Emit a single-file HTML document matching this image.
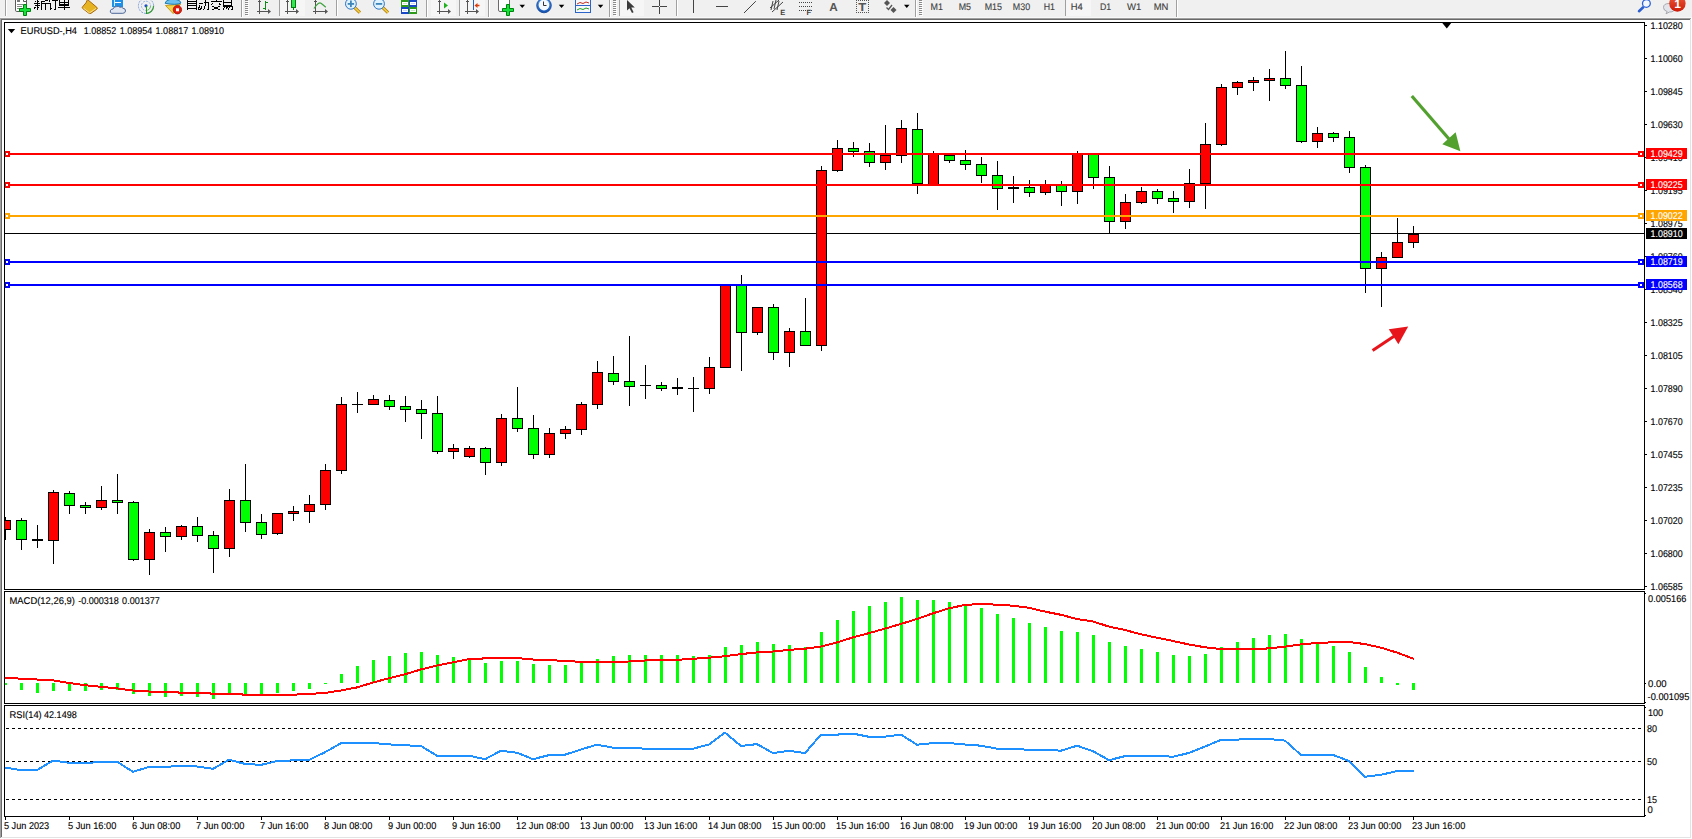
<!DOCTYPE html><html><head><meta charset="utf-8"><title>EURUSD H4</title><style>html,body{margin:0;padding:0;background:#f0f0f0;overflow:hidden;}svg{display:block;}text{font-family:"Liberation Sans",sans-serif;}</style></head><body><svg width="1692" height="839" viewBox="0 0 1692 839" font-family="Liberation Sans, sans-serif" shape-rendering="crispEdges" text-rendering="geometricPrecision">
<defs><clipPath id="cm"><rect x="5" y="23" width="1639" height="566"/></clipPath><clipPath id="cmacd"><rect x="5" y="592" width="1639" height="111"/></clipPath><clipPath id="crsi"><rect x="5" y="706" width="1639" height="110"/></clipPath><linearGradient id="gbadge" x1="0" y1="0" x2="0" y2="1"><stop offset="0" stop-color="#ee5a3c"/><stop offset="1" stop-color="#cc1a08"/></linearGradient><linearGradient id="gclock" x1="0" y1="0" x2="0" y2="1"><stop offset="0" stop-color="#5aa0f0"/><stop offset="1" stop-color="#1050b0"/></linearGradient></defs>
<rect x="0" y="0" width="1692" height="839" fill="#f0f0f0"/>
<rect x="0" y="17" width="1692" height="1" fill="#f8f8f8"/>
<rect x="0" y="18" width="1691" height="1" fill="#a0a0a0"/>
<rect x="0" y="18" width="1" height="820" fill="#a0a0a0"/>
<rect x="1" y="19" width="1689" height="1" fill="#696969"/>
<rect x="1" y="19" width="1" height="818" fill="#696969"/>
<rect x="1690" y="19" width="1" height="819" fill="#e3e3e3"/>
<rect x="1" y="837" width="1690" height="1" fill="#e3e3e3"/>
<rect x="1691" y="18" width="1" height="821" fill="#ffffff"/>
<rect x="0" y="838" width="1692" height="1" fill="#ffffff"/>
<rect x="2" y="20" width="1688" height="817" fill="#ffffff"/>
<rect x="5" y="233" width="1639" height="1" fill="#000"/>
<g clip-path="url(#cm)">
<rect x="5" y="517" width="1" height="23" fill="#000"/>
<rect x="0" y="520" width="11" height="10" fill="#000"/>
<rect x="1" y="521" width="9" height="8" fill="#ff0000"/>
<rect x="21" y="518" width="1" height="32" fill="#000"/>
<rect x="16" y="520" width="11" height="20" fill="#000"/>
<rect x="17" y="521" width="9" height="18" fill="#00ff00"/>
<rect x="37" y="525" width="1" height="23" fill="#000"/>
<rect x="32" y="539" width="11" height="2" fill="#000"/>
<rect x="53" y="490" width="1" height="74" fill="#000"/>
<rect x="48" y="492" width="11" height="49" fill="#000"/>
<rect x="49" y="493" width="9" height="47" fill="#ff0000"/>
<rect x="69" y="491" width="1" height="23" fill="#000"/>
<rect x="64" y="493" width="11" height="13" fill="#000"/>
<rect x="65" y="494" width="9" height="11" fill="#00ff00"/>
<rect x="85" y="502" width="1" height="12" fill="#000"/>
<rect x="80" y="505" width="11" height="3" fill="#000"/>
<rect x="81" y="506" width="9" height="1" fill="#00ff00"/>
<rect x="101" y="486" width="1" height="24" fill="#000"/>
<rect x="96" y="500" width="11" height="8" fill="#000"/>
<rect x="97" y="501" width="9" height="6" fill="#ff0000"/>
<rect x="117" y="474" width="1" height="40" fill="#000"/>
<rect x="112" y="500" width="11" height="3" fill="#000"/>
<rect x="113" y="501" width="9" height="1" fill="#00ff00"/>
<rect x="133" y="501" width="1" height="60" fill="#000"/>
<rect x="128" y="502" width="11" height="58" fill="#000"/>
<rect x="129" y="503" width="9" height="56" fill="#00ff00"/>
<rect x="149" y="529" width="1" height="46" fill="#000"/>
<rect x="144" y="532" width="11" height="28" fill="#000"/>
<rect x="145" y="533" width="9" height="26" fill="#ff0000"/>
<rect x="165" y="527" width="1" height="25" fill="#000"/>
<rect x="160" y="532" width="11" height="5" fill="#000"/>
<rect x="161" y="533" width="9" height="3" fill="#00ff00"/>
<rect x="181" y="525" width="1" height="15" fill="#000"/>
<rect x="176" y="526" width="11" height="11" fill="#000"/>
<rect x="177" y="527" width="9" height="9" fill="#ff0000"/>
<rect x="197" y="517" width="1" height="25" fill="#000"/>
<rect x="192" y="526" width="11" height="10" fill="#000"/>
<rect x="193" y="527" width="9" height="8" fill="#00ff00"/>
<rect x="213" y="531" width="1" height="42" fill="#000"/>
<rect x="208" y="535" width="11" height="14" fill="#000"/>
<rect x="209" y="536" width="9" height="12" fill="#00ff00"/>
<rect x="229" y="489" width="1" height="68" fill="#000"/>
<rect x="224" y="500" width="11" height="49" fill="#000"/>
<rect x="225" y="501" width="9" height="47" fill="#ff0000"/>
<rect x="245" y="464" width="1" height="68" fill="#000"/>
<rect x="240" y="500" width="11" height="23" fill="#000"/>
<rect x="241" y="501" width="9" height="21" fill="#00ff00"/>
<rect x="261" y="514" width="1" height="25" fill="#000"/>
<rect x="256" y="522" width="11" height="13" fill="#000"/>
<rect x="257" y="523" width="9" height="11" fill="#00ff00"/>
<rect x="277" y="513" width="1" height="22" fill="#000"/>
<rect x="272" y="513" width="11" height="21" fill="#000"/>
<rect x="273" y="514" width="9" height="19" fill="#ff0000"/>
<rect x="293" y="506" width="1" height="15" fill="#000"/>
<rect x="288" y="511" width="11" height="3" fill="#000"/>
<rect x="289" y="512" width="9" height="1" fill="#ff0000"/>
<rect x="309" y="495" width="1" height="28" fill="#000"/>
<rect x="304" y="504" width="11" height="8" fill="#000"/>
<rect x="305" y="505" width="9" height="6" fill="#ff0000"/>
<rect x="325" y="464" width="1" height="46" fill="#000"/>
<rect x="320" y="470" width="11" height="35" fill="#000"/>
<rect x="321" y="471" width="9" height="33" fill="#ff0000"/>
<rect x="341" y="397" width="1" height="77" fill="#000"/>
<rect x="336" y="404" width="11" height="67" fill="#000"/>
<rect x="337" y="405" width="9" height="65" fill="#ff0000"/>
<rect x="357" y="392" width="1" height="21" fill="#000"/>
<rect x="352" y="404" width="11" height="1" fill="#000"/>
<rect x="373" y="395" width="1" height="10" fill="#000"/>
<rect x="368" y="399" width="11" height="6" fill="#000"/>
<rect x="369" y="400" width="9" height="4" fill="#ff0000"/>
<rect x="389" y="395" width="1" height="15" fill="#000"/>
<rect x="384" y="400" width="11" height="7" fill="#000"/>
<rect x="385" y="401" width="9" height="5" fill="#00ff00"/>
<rect x="405" y="396" width="1" height="26" fill="#000"/>
<rect x="400" y="406" width="11" height="4" fill="#000"/>
<rect x="401" y="407" width="9" height="2" fill="#00ff00"/>
<rect x="421" y="400" width="1" height="39" fill="#000"/>
<rect x="416" y="409" width="11" height="5" fill="#000"/>
<rect x="417" y="410" width="9" height="3" fill="#00ff00"/>
<rect x="437" y="396" width="1" height="58" fill="#000"/>
<rect x="432" y="413" width="11" height="39" fill="#000"/>
<rect x="433" y="414" width="9" height="37" fill="#00ff00"/>
<rect x="453" y="444" width="1" height="15" fill="#000"/>
<rect x="448" y="448" width="11" height="4" fill="#000"/>
<rect x="449" y="449" width="9" height="2" fill="#ff0000"/>
<rect x="469" y="446" width="1" height="12" fill="#000"/>
<rect x="464" y="448" width="11" height="9" fill="#000"/>
<rect x="465" y="449" width="9" height="7" fill="#ff0000"/>
<rect x="485" y="447" width="1" height="28" fill="#000"/>
<rect x="480" y="448" width="11" height="15" fill="#000"/>
<rect x="481" y="449" width="9" height="13" fill="#00ff00"/>
<rect x="501" y="414" width="1" height="52" fill="#000"/>
<rect x="496" y="418" width="11" height="45" fill="#000"/>
<rect x="497" y="419" width="9" height="43" fill="#ff0000"/>
<rect x="517" y="387" width="1" height="45" fill="#000"/>
<rect x="512" y="418" width="11" height="11" fill="#000"/>
<rect x="513" y="419" width="9" height="9" fill="#00ff00"/>
<rect x="533" y="415" width="1" height="44" fill="#000"/>
<rect x="528" y="428" width="11" height="27" fill="#000"/>
<rect x="529" y="429" width="9" height="25" fill="#00ff00"/>
<rect x="549" y="428" width="1" height="30" fill="#000"/>
<rect x="544" y="433" width="11" height="22" fill="#000"/>
<rect x="545" y="434" width="9" height="20" fill="#ff0000"/>
<rect x="565" y="426" width="1" height="13" fill="#000"/>
<rect x="560" y="429" width="11" height="5" fill="#000"/>
<rect x="561" y="430" width="9" height="3" fill="#ff0000"/>
<rect x="581" y="402" width="1" height="33" fill="#000"/>
<rect x="576" y="404" width="11" height="26" fill="#000"/>
<rect x="577" y="405" width="9" height="24" fill="#ff0000"/>
<rect x="597" y="361" width="1" height="48" fill="#000"/>
<rect x="592" y="372" width="11" height="33" fill="#000"/>
<rect x="593" y="373" width="9" height="31" fill="#ff0000"/>
<rect x="613" y="356" width="1" height="29" fill="#000"/>
<rect x="608" y="373" width="11" height="9" fill="#000"/>
<rect x="609" y="374" width="9" height="7" fill="#00ff00"/>
<rect x="629" y="336" width="1" height="70" fill="#000"/>
<rect x="624" y="381" width="11" height="6" fill="#000"/>
<rect x="625" y="382" width="9" height="4" fill="#00ff00"/>
<rect x="645" y="365" width="1" height="34" fill="#000"/>
<rect x="640" y="385" width="11" height="1" fill="#000"/>
<rect x="661" y="382" width="1" height="9" fill="#000"/>
<rect x="656" y="385" width="11" height="4" fill="#000"/>
<rect x="657" y="386" width="9" height="2" fill="#00ff00"/>
<rect x="677" y="378" width="1" height="17" fill="#000"/>
<rect x="672" y="387" width="11" height="2" fill="#000"/>
<rect x="693" y="377" width="1" height="35" fill="#000"/>
<rect x="688" y="388" width="11" height="1" fill="#000"/>
<rect x="709" y="357" width="1" height="37" fill="#000"/>
<rect x="704" y="367" width="11" height="22" fill="#000"/>
<rect x="705" y="368" width="9" height="20" fill="#ff0000"/>
<rect x="725" y="284" width="1" height="84" fill="#000"/>
<rect x="720" y="284" width="11" height="84" fill="#000"/>
<rect x="721" y="285" width="9" height="82" fill="#ff0000"/>
<rect x="741" y="275" width="1" height="96" fill="#000"/>
<rect x="736" y="284" width="11" height="49" fill="#000"/>
<rect x="737" y="285" width="9" height="47" fill="#00ff00"/>
<rect x="757" y="307" width="1" height="28" fill="#000"/>
<rect x="752" y="307" width="11" height="26" fill="#000"/>
<rect x="753" y="308" width="9" height="24" fill="#ff0000"/>
<rect x="773" y="304" width="1" height="56" fill="#000"/>
<rect x="768" y="307" width="11" height="46" fill="#000"/>
<rect x="769" y="308" width="9" height="44" fill="#00ff00"/>
<rect x="789" y="328" width="1" height="39" fill="#000"/>
<rect x="784" y="331" width="11" height="22" fill="#000"/>
<rect x="785" y="332" width="9" height="20" fill="#ff0000"/>
<rect x="805" y="298" width="1" height="48" fill="#000"/>
<rect x="800" y="331" width="11" height="15" fill="#000"/>
<rect x="801" y="332" width="9" height="13" fill="#00ff00"/>
<rect x="821" y="166" width="1" height="185" fill="#000"/>
<rect x="816" y="170" width="11" height="176" fill="#000"/>
<rect x="817" y="171" width="9" height="174" fill="#ff0000"/>
<rect x="837" y="140" width="1" height="32" fill="#000"/>
<rect x="832" y="148" width="11" height="23" fill="#000"/>
<rect x="833" y="149" width="9" height="21" fill="#ff0000"/>
<rect x="853" y="142" width="1" height="15" fill="#000"/>
<rect x="848" y="148" width="11" height="4" fill="#000"/>
<rect x="849" y="149" width="9" height="2" fill="#00ff00"/>
<rect x="869" y="143" width="1" height="24" fill="#000"/>
<rect x="864" y="151" width="11" height="12" fill="#000"/>
<rect x="865" y="152" width="9" height="10" fill="#00ff00"/>
<rect x="885" y="125" width="1" height="45" fill="#000"/>
<rect x="880" y="155" width="11" height="8" fill="#000"/>
<rect x="881" y="156" width="9" height="6" fill="#ff0000"/>
<rect x="901" y="120" width="1" height="43" fill="#000"/>
<rect x="896" y="128" width="11" height="28" fill="#000"/>
<rect x="897" y="129" width="9" height="26" fill="#ff0000"/>
<rect x="917" y="113" width="1" height="81" fill="#000"/>
<rect x="912" y="129" width="11" height="55" fill="#000"/>
<rect x="913" y="130" width="9" height="53" fill="#00ff00"/>
<rect x="933" y="151" width="1" height="34" fill="#000"/>
<rect x="928" y="153" width="11" height="32" fill="#000"/>
<rect x="929" y="154" width="9" height="30" fill="#ff0000"/>
<rect x="949" y="155" width="1" height="8" fill="#000"/>
<rect x="944" y="155" width="11" height="6" fill="#000"/>
<rect x="945" y="156" width="9" height="4" fill="#00ff00"/>
<rect x="965" y="150" width="1" height="20" fill="#000"/>
<rect x="960" y="160" width="11" height="5" fill="#000"/>
<rect x="961" y="161" width="9" height="3" fill="#00ff00"/>
<rect x="981" y="157" width="1" height="26" fill="#000"/>
<rect x="976" y="164" width="11" height="12" fill="#000"/>
<rect x="977" y="165" width="9" height="10" fill="#00ff00"/>
<rect x="997" y="161" width="1" height="49" fill="#000"/>
<rect x="992" y="175" width="11" height="14" fill="#000"/>
<rect x="993" y="176" width="9" height="12" fill="#00ff00"/>
<rect x="1013" y="176" width="1" height="27" fill="#000"/>
<rect x="1008" y="187" width="11" height="2" fill="#000"/>
<rect x="1029" y="180" width="1" height="17" fill="#000"/>
<rect x="1024" y="187" width="11" height="6" fill="#000"/>
<rect x="1025" y="188" width="9" height="4" fill="#00ff00"/>
<rect x="1045" y="180" width="1" height="15" fill="#000"/>
<rect x="1040" y="185" width="11" height="8" fill="#000"/>
<rect x="1041" y="186" width="9" height="6" fill="#ff0000"/>
<rect x="1061" y="181" width="1" height="25" fill="#000"/>
<rect x="1056" y="185" width="11" height="7" fill="#000"/>
<rect x="1057" y="186" width="9" height="5" fill="#00ff00"/>
<rect x="1077" y="151" width="1" height="53" fill="#000"/>
<rect x="1072" y="154" width="11" height="38" fill="#000"/>
<rect x="1073" y="155" width="9" height="36" fill="#ff0000"/>
<rect x="1093" y="154" width="1" height="35" fill="#000"/>
<rect x="1088" y="154" width="11" height="24" fill="#000"/>
<rect x="1089" y="155" width="9" height="22" fill="#00ff00"/>
<rect x="1109" y="166" width="1" height="68" fill="#000"/>
<rect x="1104" y="177" width="11" height="45" fill="#000"/>
<rect x="1105" y="178" width="9" height="43" fill="#00ff00"/>
<rect x="1125" y="194" width="1" height="35" fill="#000"/>
<rect x="1120" y="202" width="11" height="20" fill="#000"/>
<rect x="1121" y="203" width="9" height="18" fill="#ff0000"/>
<rect x="1141" y="187" width="1" height="17" fill="#000"/>
<rect x="1136" y="191" width="11" height="12" fill="#000"/>
<rect x="1137" y="192" width="9" height="10" fill="#ff0000"/>
<rect x="1157" y="189" width="1" height="15" fill="#000"/>
<rect x="1152" y="191" width="11" height="8" fill="#000"/>
<rect x="1153" y="192" width="9" height="6" fill="#00ff00"/>
<rect x="1173" y="191" width="1" height="22" fill="#000"/>
<rect x="1168" y="198" width="11" height="4" fill="#000"/>
<rect x="1169" y="199" width="9" height="2" fill="#00ff00"/>
<rect x="1189" y="169" width="1" height="39" fill="#000"/>
<rect x="1184" y="183" width="11" height="19" fill="#000"/>
<rect x="1185" y="184" width="9" height="17" fill="#ff0000"/>
<rect x="1205" y="123" width="1" height="86" fill="#000"/>
<rect x="1200" y="144" width="11" height="40" fill="#000"/>
<rect x="1201" y="145" width="9" height="38" fill="#ff0000"/>
<rect x="1221" y="84" width="1" height="62" fill="#000"/>
<rect x="1216" y="87" width="11" height="58" fill="#000"/>
<rect x="1217" y="88" width="9" height="56" fill="#ff0000"/>
<rect x="1237" y="81" width="1" height="14" fill="#000"/>
<rect x="1232" y="82" width="11" height="6" fill="#000"/>
<rect x="1233" y="83" width="9" height="4" fill="#ff0000"/>
<rect x="1253" y="77" width="1" height="14" fill="#000"/>
<rect x="1248" y="80" width="11" height="3" fill="#000"/>
<rect x="1249" y="81" width="9" height="1" fill="#ff0000"/>
<rect x="1269" y="69" width="1" height="32" fill="#000"/>
<rect x="1264" y="78" width="11" height="3" fill="#000"/>
<rect x="1265" y="79" width="9" height="1" fill="#ff0000"/>
<rect x="1285" y="51" width="1" height="38" fill="#000"/>
<rect x="1280" y="78" width="11" height="8" fill="#000"/>
<rect x="1281" y="79" width="9" height="6" fill="#00ff00"/>
<rect x="1301" y="66" width="1" height="77" fill="#000"/>
<rect x="1296" y="85" width="11" height="57" fill="#000"/>
<rect x="1297" y="86" width="9" height="55" fill="#00ff00"/>
<rect x="1317" y="127" width="1" height="21" fill="#000"/>
<rect x="1312" y="133" width="11" height="9" fill="#000"/>
<rect x="1313" y="134" width="9" height="7" fill="#ff0000"/>
<rect x="1333" y="132" width="1" height="10" fill="#000"/>
<rect x="1328" y="133" width="11" height="5" fill="#000"/>
<rect x="1329" y="134" width="9" height="3" fill="#00ff00"/>
<rect x="1349" y="131" width="1" height="42" fill="#000"/>
<rect x="1344" y="137" width="11" height="31" fill="#000"/>
<rect x="1345" y="138" width="9" height="29" fill="#00ff00"/>
<rect x="1365" y="165" width="1" height="128" fill="#000"/>
<rect x="1360" y="167" width="11" height="102" fill="#000"/>
<rect x="1361" y="168" width="9" height="100" fill="#00ff00"/>
<rect x="1381" y="252" width="1" height="55" fill="#000"/>
<rect x="1376" y="257" width="11" height="12" fill="#000"/>
<rect x="1377" y="258" width="9" height="10" fill="#ff0000"/>
<rect x="1397" y="218" width="1" height="40" fill="#000"/>
<rect x="1392" y="242" width="11" height="16" fill="#000"/>
<rect x="1393" y="243" width="9" height="14" fill="#ff0000"/>
<rect x="1413" y="226" width="1" height="22" fill="#000"/>
<rect x="1408" y="234" width="11" height="9" fill="#000"/>
<rect x="1409" y="235" width="9" height="7" fill="#ff0000"/>
</g>
<rect x="5" y="153" width="1639" height="2" fill="#ff0000"/>
<rect x="4" y="151" width="6" height="6" fill="#ff0000"/>
<rect x="6" y="153" width="2" height="2" fill="#fff"/>
<rect x="1638" y="151" width="6" height="6" fill="#ff0000"/>
<rect x="1640" y="153" width="2" height="2" fill="#fff"/>
<rect x="5" y="184" width="1639" height="2" fill="#ff0000"/>
<rect x="4" y="182" width="6" height="6" fill="#ff0000"/>
<rect x="6" y="184" width="2" height="2" fill="#fff"/>
<rect x="1638" y="182" width="6" height="6" fill="#ff0000"/>
<rect x="1640" y="184" width="2" height="2" fill="#fff"/>
<rect x="5" y="215" width="1639" height="2" fill="#ffa500"/>
<rect x="4" y="213" width="6" height="6" fill="#ffa500"/>
<rect x="6" y="215" width="2" height="2" fill="#fff"/>
<rect x="1638" y="213" width="6" height="6" fill="#ffa500"/>
<rect x="1640" y="215" width="2" height="2" fill="#fff"/>
<rect x="5" y="261" width="1639" height="2" fill="#0000ff"/>
<rect x="4" y="259" width="6" height="6" fill="#0000ff"/>
<rect x="6" y="261" width="2" height="2" fill="#fff"/>
<rect x="1638" y="259" width="6" height="6" fill="#0000ff"/>
<rect x="1640" y="261" width="2" height="2" fill="#fff"/>
<rect x="5" y="284" width="1639" height="2" fill="#0000ff"/>
<rect x="4" y="282" width="6" height="6" fill="#0000ff"/>
<rect x="6" y="284" width="2" height="2" fill="#fff"/>
<rect x="1638" y="282" width="6" height="6" fill="#0000ff"/>
<rect x="1640" y="284" width="2" height="2" fill="#fff"/>
<rect x="4" y="22" width="1641" height="1" fill="#000"/>
<rect x="4" y="589" width="1641" height="1" fill="#000"/>
<rect x="4" y="22" width="1" height="568" fill="#000"/>
<rect x="1644" y="22" width="1" height="568" fill="#000"/>
<rect x="4" y="591" width="1641" height="1" fill="#000"/>
<rect x="4" y="703" width="1641" height="1" fill="#000"/>
<rect x="4" y="591" width="1" height="113" fill="#000"/>
<rect x="1644" y="591" width="1" height="113" fill="#000"/>
<rect x="4" y="705" width="1641" height="1" fill="#000"/>
<rect x="4" y="816" width="1641" height="1" fill="#000"/>
<rect x="4" y="705" width="1" height="112" fill="#000"/>
<rect x="1644" y="705" width="1" height="112" fill="#000"/>
<polygon points="1441.5,22 1452,22 1446.8,28.5" fill="#000" shape-rendering="geometricPrecision"/>
<rect x="1645" y="25" width="2" height="1" fill="#000"/>
<text x="1650.5" y="29" font-size="9.8" fill="#000" stroke="#000" stroke-width="0.12" textLength="32.2" lengthAdjust="spacingAndGlyphs" >1.10280</text>
<rect x="1645" y="58" width="2" height="1" fill="#000"/>
<text x="1650.5" y="62" font-size="9.8" fill="#000" stroke="#000" stroke-width="0.12" textLength="32.2" lengthAdjust="spacingAndGlyphs" >1.10060</text>
<rect x="1645" y="91" width="2" height="1" fill="#000"/>
<text x="1650.5" y="95" font-size="9.8" fill="#000" stroke="#000" stroke-width="0.12" textLength="32.2" lengthAdjust="spacingAndGlyphs" >1.09845</text>
<rect x="1645" y="124" width="2" height="1" fill="#000"/>
<text x="1650.5" y="128" font-size="9.8" fill="#000" stroke="#000" stroke-width="0.12" textLength="32.2" lengthAdjust="spacingAndGlyphs" >1.09630</text>
<rect x="1645" y="157" width="2" height="1" fill="#000"/>
<text x="1650.5" y="161" font-size="9.8" fill="#000" stroke="#000" stroke-width="0.12" textLength="32.2" lengthAdjust="spacingAndGlyphs" >1.09410</text>
<rect x="1645" y="190" width="2" height="1" fill="#000"/>
<text x="1650.5" y="194" font-size="9.8" fill="#000" stroke="#000" stroke-width="0.12" textLength="32.2" lengthAdjust="spacingAndGlyphs" >1.09195</text>
<rect x="1645" y="223" width="2" height="1" fill="#000"/>
<text x="1650.5" y="227" font-size="9.8" fill="#000" stroke="#000" stroke-width="0.12" textLength="32.2" lengthAdjust="spacingAndGlyphs" >1.08975</text>
<rect x="1645" y="256" width="2" height="1" fill="#000"/>
<text x="1650.5" y="260" font-size="9.8" fill="#000" stroke="#000" stroke-width="0.12" textLength="32.2" lengthAdjust="spacingAndGlyphs" >1.08760</text>
<rect x="1645" y="289" width="2" height="1" fill="#000"/>
<text x="1650.5" y="293" font-size="9.8" fill="#000" stroke="#000" stroke-width="0.12" textLength="32.2" lengthAdjust="spacingAndGlyphs" >1.08540</text>
<rect x="1645" y="322" width="2" height="1" fill="#000"/>
<text x="1650.5" y="326" font-size="9.8" fill="#000" stroke="#000" stroke-width="0.12" textLength="32.2" lengthAdjust="spacingAndGlyphs" >1.08325</text>
<rect x="1645" y="355" width="2" height="1" fill="#000"/>
<text x="1650.5" y="359" font-size="9.8" fill="#000" stroke="#000" stroke-width="0.12" textLength="32.2" lengthAdjust="spacingAndGlyphs" >1.08105</text>
<rect x="1645" y="388" width="2" height="1" fill="#000"/>
<text x="1650.5" y="392" font-size="9.8" fill="#000" stroke="#000" stroke-width="0.12" textLength="32.2" lengthAdjust="spacingAndGlyphs" >1.07890</text>
<rect x="1645" y="421" width="2" height="1" fill="#000"/>
<text x="1650.5" y="425" font-size="9.8" fill="#000" stroke="#000" stroke-width="0.12" textLength="32.2" lengthAdjust="spacingAndGlyphs" >1.07670</text>
<rect x="1645" y="454" width="2" height="1" fill="#000"/>
<text x="1650.5" y="458" font-size="9.8" fill="#000" stroke="#000" stroke-width="0.12" textLength="32.2" lengthAdjust="spacingAndGlyphs" >1.07455</text>
<rect x="1645" y="487" width="2" height="1" fill="#000"/>
<text x="1650.5" y="491" font-size="9.8" fill="#000" stroke="#000" stroke-width="0.12" textLength="32.2" lengthAdjust="spacingAndGlyphs" >1.07235</text>
<rect x="1645" y="520" width="2" height="1" fill="#000"/>
<text x="1650.5" y="524" font-size="9.8" fill="#000" stroke="#000" stroke-width="0.12" textLength="32.2" lengthAdjust="spacingAndGlyphs" >1.07020</text>
<rect x="1645" y="553" width="2" height="1" fill="#000"/>
<text x="1650.5" y="557" font-size="9.8" fill="#000" stroke="#000" stroke-width="0.12" textLength="32.2" lengthAdjust="spacingAndGlyphs" >1.06800</text>
<rect x="1645" y="586" width="2" height="1" fill="#000"/>
<text x="1650.5" y="590" font-size="9.8" fill="#000" stroke="#000" stroke-width="0.12" textLength="32.2" lengthAdjust="spacingAndGlyphs" >1.06585</text>
<rect x="1646" y="148" width="41" height="11" fill="#ff0000"/>
<text x="1650.5" y="157" font-size="9.8" fill="#fff" stroke="#fff" stroke-width="0.12" textLength="32.2" lengthAdjust="spacingAndGlyphs" >1.09429</text>
<rect x="1646" y="179" width="41" height="11" fill="#ff0000"/>
<text x="1650.5" y="188" font-size="9.8" fill="#fff" stroke="#fff" stroke-width="0.12" textLength="32.2" lengthAdjust="spacingAndGlyphs" >1.09225</text>
<rect x="1646" y="210" width="41" height="11" fill="#ffa500"/>
<text x="1650.5" y="219" font-size="9.8" fill="#fff" stroke="#fff" stroke-width="0.12" textLength="32.2" lengthAdjust="spacingAndGlyphs" >1.09022</text>
<rect x="1646" y="256" width="41" height="11" fill="#0000ff"/>
<text x="1650.5" y="265" font-size="9.8" fill="#fff" stroke="#fff" stroke-width="0.12" textLength="32.2" lengthAdjust="spacingAndGlyphs" >1.08719</text>
<rect x="1646" y="279" width="41" height="11" fill="#0000ff"/>
<text x="1650.5" y="288" font-size="9.8" fill="#fff" stroke="#fff" stroke-width="0.12" textLength="32.2" lengthAdjust="spacingAndGlyphs" >1.08568</text>
<rect x="1646" y="228" width="41" height="11" fill="#000"/>
<text x="1650.5" y="237" font-size="9.8" fill="#fff" stroke="#fff" stroke-width="0.12" textLength="32.2" lengthAdjust="spacingAndGlyphs" >1.08910</text>
<polygon points="7.8,29 15.2,29 11.5,33.2" fill="#000" shape-rendering="geometricPrecision"/>
<text x="20.6" y="34" font-size="9.8" fill="#000" stroke="#000" stroke-width="0.12" textLength="56.4" lengthAdjust="spacingAndGlyphs" >EURUSD-,H4</text>
<text x="83.7" y="34" font-size="9.8" fill="#000" stroke="#000" stroke-width="0.12" textLength="32.6" lengthAdjust="spacingAndGlyphs" >1.08852</text>
<text x="119.65" y="34" font-size="9.8" fill="#000" stroke="#000" stroke-width="0.12" textLength="32.6" lengthAdjust="spacingAndGlyphs" >1.08954</text>
<text x="155.60000000000002" y="34" font-size="9.8" fill="#000" stroke="#000" stroke-width="0.12" textLength="32.6" lengthAdjust="spacingAndGlyphs" >1.08817</text>
<text x="191.55" y="34" font-size="9.8" fill="#000" stroke="#000" stroke-width="0.12" textLength="32.6" lengthAdjust="spacingAndGlyphs" >1.08910</text>
<g shape-rendering="geometricPrecision">
<line x1="1411.8" y1="96" x2="1449" y2="139" stroke="#52a02e" stroke-width="3.2"/>
<polygon points="1455.6,132.2 1442.3,144.2 1460.4,151.3" fill="#52a02e"/>
<line x1="1372.6" y1="350.5" x2="1394" y2="336.2" stroke="#e8141c" stroke-width="3"/>
<polygon points="1388.8,329.2 1408.2,326.6 1398.4,344.2" fill="#e8141c"/>
</g>
<g clip-path="url(#cmacd)">
<rect x="4" y="683" width="3" height="2" fill="#00ff00"/>
<rect x="20" y="683" width="3" height="7" fill="#00ff00"/>
<rect x="36" y="683" width="3" height="10" fill="#00ff00"/>
<rect x="52" y="683" width="3" height="8" fill="#00ff00"/>
<rect x="68" y="683" width="3" height="8" fill="#00ff00"/>
<rect x="84" y="683" width="3" height="8" fill="#00ff00"/>
<rect x="100" y="683" width="3" height="7" fill="#00ff00"/>
<rect x="116" y="683" width="3" height="7" fill="#00ff00"/>
<rect x="132" y="683" width="3" height="11" fill="#00ff00"/>
<rect x="148" y="683" width="3" height="13" fill="#00ff00"/>
<rect x="164" y="683" width="3" height="14" fill="#00ff00"/>
<rect x="180" y="683" width="3" height="13" fill="#00ff00"/>
<rect x="196" y="683" width="3" height="14" fill="#00ff00"/>
<rect x="212" y="683" width="3" height="16" fill="#00ff00"/>
<rect x="228" y="683" width="3" height="10" fill="#00ff00"/>
<rect x="244" y="683" width="3" height="11" fill="#00ff00"/>
<rect x="260" y="683" width="3" height="11" fill="#00ff00"/>
<rect x="276" y="683" width="3" height="10" fill="#00ff00"/>
<rect x="292" y="683" width="3" height="8" fill="#00ff00"/>
<rect x="308" y="683" width="3" height="6" fill="#00ff00"/>
<rect x="324" y="683" width="3" height="1" fill="#00ff00"/>
<rect x="340" y="674" width="3" height="9" fill="#00ff00"/>
<rect x="356" y="666" width="3" height="17" fill="#00ff00"/>
<rect x="372" y="660" width="3" height="23" fill="#00ff00"/>
<rect x="388" y="656" width="3" height="27" fill="#00ff00"/>
<rect x="404" y="653" width="3" height="30" fill="#00ff00"/>
<rect x="420" y="652" width="3" height="31" fill="#00ff00"/>
<rect x="436" y="655" width="3" height="28" fill="#00ff00"/>
<rect x="452" y="657" width="3" height="26" fill="#00ff00"/>
<rect x="468" y="660" width="3" height="23" fill="#00ff00"/>
<rect x="484" y="663" width="3" height="20" fill="#00ff00"/>
<rect x="500" y="661" width="3" height="22" fill="#00ff00"/>
<rect x="516" y="661" width="3" height="22" fill="#00ff00"/>
<rect x="532" y="664" width="3" height="19" fill="#00ff00"/>
<rect x="548" y="665" width="3" height="18" fill="#00ff00"/>
<rect x="564" y="665" width="3" height="18" fill="#00ff00"/>
<rect x="580" y="662" width="3" height="21" fill="#00ff00"/>
<rect x="596" y="659" width="3" height="24" fill="#00ff00"/>
<rect x="612" y="656" width="3" height="27" fill="#00ff00"/>
<rect x="628" y="655" width="3" height="28" fill="#00ff00"/>
<rect x="644" y="655" width="3" height="28" fill="#00ff00"/>
<rect x="660" y="655" width="3" height="28" fill="#00ff00"/>
<rect x="676" y="655" width="3" height="28" fill="#00ff00"/>
<rect x="692" y="656" width="3" height="27" fill="#00ff00"/>
<rect x="708" y="655" width="3" height="28" fill="#00ff00"/>
<rect x="724" y="647" width="3" height="36" fill="#00ff00"/>
<rect x="740" y="645" width="3" height="38" fill="#00ff00"/>
<rect x="756" y="642" width="3" height="41" fill="#00ff00"/>
<rect x="772" y="644" width="3" height="39" fill="#00ff00"/>
<rect x="788" y="645" width="3" height="38" fill="#00ff00"/>
<rect x="804" y="647" width="3" height="36" fill="#00ff00"/>
<rect x="820" y="632" width="3" height="51" fill="#00ff00"/>
<rect x="836" y="620" width="3" height="63" fill="#00ff00"/>
<rect x="852" y="611" width="3" height="72" fill="#00ff00"/>
<rect x="868" y="606" width="3" height="77" fill="#00ff00"/>
<rect x="884" y="602" width="3" height="81" fill="#00ff00"/>
<rect x="900" y="597" width="3" height="86" fill="#00ff00"/>
<rect x="916" y="600" width="3" height="83" fill="#00ff00"/>
<rect x="932" y="600" width="3" height="83" fill="#00ff00"/>
<rect x="948" y="602" width="3" height="81" fill="#00ff00"/>
<rect x="964" y="604" width="3" height="79" fill="#00ff00"/>
<rect x="980" y="608" width="3" height="75" fill="#00ff00"/>
<rect x="996" y="614" width="3" height="69" fill="#00ff00"/>
<rect x="1012" y="618" width="3" height="65" fill="#00ff00"/>
<rect x="1028" y="623" width="3" height="60" fill="#00ff00"/>
<rect x="1044" y="627" width="3" height="56" fill="#00ff00"/>
<rect x="1060" y="631" width="3" height="52" fill="#00ff00"/>
<rect x="1076" y="632" width="3" height="51" fill="#00ff00"/>
<rect x="1092" y="635" width="3" height="48" fill="#00ff00"/>
<rect x="1108" y="642" width="3" height="41" fill="#00ff00"/>
<rect x="1124" y="646" width="3" height="37" fill="#00ff00"/>
<rect x="1140" y="649" width="3" height="34" fill="#00ff00"/>
<rect x="1156" y="652" width="3" height="31" fill="#00ff00"/>
<rect x="1172" y="655" width="3" height="28" fill="#00ff00"/>
<rect x="1188" y="656" width="3" height="27" fill="#00ff00"/>
<rect x="1204" y="654" width="3" height="29" fill="#00ff00"/>
<rect x="1220" y="647" width="3" height="36" fill="#00ff00"/>
<rect x="1236" y="642" width="3" height="41" fill="#00ff00"/>
<rect x="1252" y="638" width="3" height="45" fill="#00ff00"/>
<rect x="1268" y="635" width="3" height="48" fill="#00ff00"/>
<rect x="1284" y="634" width="3" height="49" fill="#00ff00"/>
<rect x="1300" y="639" width="3" height="44" fill="#00ff00"/>
<rect x="1316" y="644" width="3" height="39" fill="#00ff00"/>
<rect x="1332" y="646" width="3" height="37" fill="#00ff00"/>
<rect x="1348" y="652" width="3" height="31" fill="#00ff00"/>
<rect x="1364" y="667" width="3" height="16" fill="#00ff00"/>
<rect x="1380" y="677" width="3" height="6" fill="#00ff00"/>
<rect x="1396" y="683" width="3" height="2" fill="#00ff00"/>
<rect x="1412" y="683" width="3" height="7" fill="#00ff00"/>
<polyline points="5,678.1 21,678.6 37,679.5 53,680.3 69,683.0 85,685.2 101,686.8 117,688.4 133,690.5 149,691.5 165,692.0 181,692.6 197,693.0 213,693.6 229,694.0 245,694.6 261,695.0 277,695.0 293,694.7 309,694.0 325,692.9 341,690.5 357,687.4 373,682.5 389,678.2 405,674.3 421,669.4 437,665.5 453,662.3 469,659.1 485,658.4 501,657.8 517,658.0 533,659.5 549,660.1 565,660.9 581,661.9 597,661.9 613,661.9 629,661.5 645,660.5 661,659.8 677,659.8 693,658.8 709,657.7 725,656.2 741,654.1 757,652.4 773,651.5 789,649.9 805,648.7 821,646.6 837,642.4 853,637.4 869,633.1 885,628.6 901,623.9 917,619.0 933,613.3 949,608.3 965,604.9 981,604.0 997,604.7 1013,605.7 1029,607.8 1045,611.6 1061,614.8 1077,619.0 1093,621.5 1109,626.6 1125,630.0 1141,634.3 1157,637.7 1173,641.0 1189,644.5 1205,647.3 1221,649.0 1237,649.1 1253,649.1 1269,648.4 1285,646.7 1301,644.4 1317,643.0 1333,642.3 1349,642.0 1365,644.1 1381,647.7 1397,652.6 1413,658.6" fill="none" stroke="#ff0000" stroke-width="2" stroke-linejoin="round" stroke-linecap="square"/>
</g>
<text x="9.5" y="604" font-size="9.8" fill="#000" stroke="#000" stroke-width="0.12" textLength="65.4" lengthAdjust="spacingAndGlyphs" >MACD(12,26,9)</text>
<text x="78.2" y="604" font-size="9.8" fill="#000" stroke="#000" stroke-width="0.12" textLength="40.7" lengthAdjust="spacingAndGlyphs" >-0.000318</text>
<text x="122.1" y="604" font-size="9.8" fill="#000" stroke="#000" stroke-width="0.12" textLength="37.8" lengthAdjust="spacingAndGlyphs" >0.001377</text>
<rect x="1645" y="593" width="1" height="1" fill="#000"/>
<text x="1648.1" y="602" font-size="9.8" fill="#000" stroke="#000" stroke-width="0.12" textLength="38.3" lengthAdjust="spacingAndGlyphs" >0.005166</text>
<rect x="1645" y="683" width="1" height="1" fill="#000"/>
<text x="1648.1" y="687" font-size="9.8" fill="#000" stroke="#000" stroke-width="0.12" textLength="18.6" lengthAdjust="spacingAndGlyphs" >0.00</text>
<rect x="1645" y="702" width="1" height="1" fill="#000"/>
<text x="1647.6" y="700" font-size="9.8" fill="#000" stroke="#000" stroke-width="0.12" textLength="41.8" lengthAdjust="spacingAndGlyphs" >-0.001095</text>
<line x1="6" y1="728.5" x2="1643" y2="728.5" stroke="#000" stroke-width="1" stroke-dasharray="3,3"/>
<line x1="6" y1="761.5" x2="1643" y2="761.5" stroke="#000" stroke-width="1" stroke-dasharray="3,3"/>
<line x1="6" y1="799.5" x2="1643" y2="799.5" stroke="#000" stroke-width="1" stroke-dasharray="3,3"/>
<g clip-path="url(#crsi)">
<polyline points="5,767.6 21,770.2 37,770.1 53,760.6 69,762.8 85,762.8 101,762.2 117,761.7 133,771.8 149,767.0 165,767.0 181,765.7 197,766.5 213,768.8 229,759.8 245,763.9 261,764.9 277,761.0 293,760.4 309,760.0 325,752.2 341,743.2 357,742.9 373,743.0 389,744.4 405,745.3 421,746.0 437,755.8 453,755.7 469,755.7 485,759.2 501,750.7 517,752.7 533,759.2 549,755.1 565,754.7 581,749.5 597,744.7 613,747.7 629,747.7 645,748.7 661,748.7 677,748.7 693,748.7 709,744.5 725,732.6 741,746.0 757,744.1 773,753.1 789,750.7 805,753.1 821,734.6 837,734.6 853,733.6 869,736.8 885,736.6 901,734.6 917,744.7 933,743.1 949,743.1 965,744.5 981,745.7 997,748.7 1013,749.1 1029,749.7 1045,749.7 1061,750.7 1077,745.7 1093,751.1 1109,760.2 1125,756.1 1141,755.7 1157,755.6 1173,756.8 1189,752.9 1205,746.5 1221,739.8 1237,739.6 1253,738.7 1269,739.0 1285,740.6 1301,755.0 1317,754.8 1333,754.9 1349,761.1 1365,776.8 1381,774.8 1397,771.0 1413,770.9" fill="none" stroke="#1e90ff" stroke-width="2" stroke-linejoin="round" stroke-linecap="square"/>
</g>
<text x="9.5" y="718" font-size="9.8" fill="#000" stroke="#000" stroke-width="0.12" textLength="32.2" lengthAdjust="spacingAndGlyphs" >RSI(14)</text>
<text x="44" y="718" font-size="9.8" fill="#000" stroke="#000" stroke-width="0.12" textLength="32.8" lengthAdjust="spacingAndGlyphs" >42.1498</text>
<rect x="1645" y="707" width="1" height="1" fill="#000"/>
<rect x="1645" y="815" width="1" height="1" fill="#000"/>
<text x="1648.0" y="716" font-size="9.8" fill="#000" stroke="#000" stroke-width="0.12" textLength="15.2" lengthAdjust="spacingAndGlyphs" >100</text>
<text x="1647.0" y="732" font-size="9.8" fill="#000" stroke="#000" stroke-width="0.12" textLength="10.0" lengthAdjust="spacingAndGlyphs" >80</text>
<text x="1647.0" y="765" font-size="9.8" fill="#000" stroke="#000" stroke-width="0.12" textLength="10.0" lengthAdjust="spacingAndGlyphs" >50</text>
<text x="1647.0" y="803" font-size="9.8" fill="#000" stroke="#000" stroke-width="0.12" textLength="10.0" lengthAdjust="spacingAndGlyphs" >15</text>
<text x="1647.6" y="813" font-size="9.8" fill="#000" stroke="#000" stroke-width="0.12" textLength="5.3" lengthAdjust="spacingAndGlyphs" >0</text>
<rect x="5" y="817" width="1" height="3" fill="#000"/>
<text x="4.0" y="829" font-size="9.8" fill="#000" stroke="#000" stroke-width="0.12" textLength="45.2" lengthAdjust="spacingAndGlyphs" >5 Jun 2023</text>
<rect x="69" y="817" width="1" height="3" fill="#000"/>
<text x="68.0" y="829" font-size="9.8" fill="#000" stroke="#000" stroke-width="0.12" textLength="48.4" lengthAdjust="spacingAndGlyphs" >5 Jun 16:00</text>
<rect x="133" y="817" width="1" height="3" fill="#000"/>
<text x="132.0" y="829" font-size="9.8" fill="#000" stroke="#000" stroke-width="0.12" textLength="48.4" lengthAdjust="spacingAndGlyphs" >6 Jun 08:00</text>
<rect x="197" y="817" width="1" height="3" fill="#000"/>
<text x="196.0" y="829" font-size="9.8" fill="#000" stroke="#000" stroke-width="0.12" textLength="48.4" lengthAdjust="spacingAndGlyphs" >7 Jun 00:00</text>
<rect x="261" y="817" width="1" height="3" fill="#000"/>
<text x="260.0" y="829" font-size="9.8" fill="#000" stroke="#000" stroke-width="0.12" textLength="48.4" lengthAdjust="spacingAndGlyphs" >7 Jun 16:00</text>
<rect x="325" y="817" width="1" height="3" fill="#000"/>
<text x="324.0" y="829" font-size="9.8" fill="#000" stroke="#000" stroke-width="0.12" textLength="48.4" lengthAdjust="spacingAndGlyphs" >8 Jun 08:00</text>
<rect x="389" y="817" width="1" height="3" fill="#000"/>
<text x="388.0" y="829" font-size="9.8" fill="#000" stroke="#000" stroke-width="0.12" textLength="48.4" lengthAdjust="spacingAndGlyphs" >9 Jun 00:00</text>
<rect x="453" y="817" width="1" height="3" fill="#000"/>
<text x="452.0" y="829" font-size="9.8" fill="#000" stroke="#000" stroke-width="0.12" textLength="48.4" lengthAdjust="spacingAndGlyphs" >9 Jun 16:00</text>
<rect x="517" y="817" width="1" height="3" fill="#000"/>
<text x="516.0" y="829" font-size="9.8" fill="#000" stroke="#000" stroke-width="0.12" textLength="53.3" lengthAdjust="spacingAndGlyphs" >12 Jun 08:00</text>
<rect x="581" y="817" width="1" height="3" fill="#000"/>
<text x="580.0" y="829" font-size="9.8" fill="#000" stroke="#000" stroke-width="0.12" textLength="53.3" lengthAdjust="spacingAndGlyphs" >13 Jun 00:00</text>
<rect x="645" y="817" width="1" height="3" fill="#000"/>
<text x="644.0" y="829" font-size="9.8" fill="#000" stroke="#000" stroke-width="0.12" textLength="53.3" lengthAdjust="spacingAndGlyphs" >13 Jun 16:00</text>
<rect x="709" y="817" width="1" height="3" fill="#000"/>
<text x="708.0" y="829" font-size="9.8" fill="#000" stroke="#000" stroke-width="0.12" textLength="53.3" lengthAdjust="spacingAndGlyphs" >14 Jun 08:00</text>
<rect x="773" y="817" width="1" height="3" fill="#000"/>
<text x="772.0" y="829" font-size="9.8" fill="#000" stroke="#000" stroke-width="0.12" textLength="53.3" lengthAdjust="spacingAndGlyphs" >15 Jun 00:00</text>
<rect x="837" y="817" width="1" height="3" fill="#000"/>
<text x="836.0" y="829" font-size="9.8" fill="#000" stroke="#000" stroke-width="0.12" textLength="53.3" lengthAdjust="spacingAndGlyphs" >15 Jun 16:00</text>
<rect x="901" y="817" width="1" height="3" fill="#000"/>
<text x="900.0" y="829" font-size="9.8" fill="#000" stroke="#000" stroke-width="0.12" textLength="53.3" lengthAdjust="spacingAndGlyphs" >16 Jun 08:00</text>
<rect x="965" y="817" width="1" height="3" fill="#000"/>
<text x="964.0" y="829" font-size="9.8" fill="#000" stroke="#000" stroke-width="0.12" textLength="53.3" lengthAdjust="spacingAndGlyphs" >19 Jun 00:00</text>
<rect x="1029" y="817" width="1" height="3" fill="#000"/>
<text x="1028.0" y="829" font-size="9.8" fill="#000" stroke="#000" stroke-width="0.12" textLength="53.3" lengthAdjust="spacingAndGlyphs" >19 Jun 16:00</text>
<rect x="1093" y="817" width="1" height="3" fill="#000"/>
<text x="1092.0" y="829" font-size="9.8" fill="#000" stroke="#000" stroke-width="0.12" textLength="53.3" lengthAdjust="spacingAndGlyphs" >20 Jun 08:00</text>
<rect x="1157" y="817" width="1" height="3" fill="#000"/>
<text x="1156.0" y="829" font-size="9.8" fill="#000" stroke="#000" stroke-width="0.12" textLength="53.3" lengthAdjust="spacingAndGlyphs" >21 Jun 00:00</text>
<rect x="1221" y="817" width="1" height="3" fill="#000"/>
<text x="1220.0" y="829" font-size="9.8" fill="#000" stroke="#000" stroke-width="0.12" textLength="53.3" lengthAdjust="spacingAndGlyphs" >21 Jun 16:00</text>
<rect x="1285" y="817" width="1" height="3" fill="#000"/>
<text x="1284.0" y="829" font-size="9.8" fill="#000" stroke="#000" stroke-width="0.12" textLength="53.3" lengthAdjust="spacingAndGlyphs" >22 Jun 08:00</text>
<rect x="1349" y="817" width="1" height="3" fill="#000"/>
<text x="1348.0" y="829" font-size="9.8" fill="#000" stroke="#000" stroke-width="0.12" textLength="53.3" lengthAdjust="spacingAndGlyphs" >23 Jun 00:00</text>
<rect x="1413" y="817" width="1" height="3" fill="#000"/>
<text x="1412.0" y="829" font-size="9.8" fill="#000" stroke="#000" stroke-width="0.12" textLength="53.3" lengthAdjust="spacingAndGlyphs" >23 Jun 16:00</text>
<rect x="5" y="0" width="1" height="16" fill="#a0a0a0"/>
<rect x="6" y="0" width="1" height="16" fill="#ffffff"/>
<g shape-rendering="geometricPrecision">
<path d="M15.5,-2 V10.2 Q15.5,11.5 16.8,11.5 H26.5 V-2 Z" fill="#fff" stroke="#5a5a5a" stroke-width="1"/>
<rect x="17" y="0" width="3" height="2" fill="#777"/>
<path d="M23.5,-1 V1.5 H26" fill="none" stroke="#5a5a5a" stroke-width="1"/>
<rect x="17" y="4" width="6" height="1" fill="#8a8a8a"/>
<rect x="17" y="6" width="5" height="1" fill="#8a8a8a"/>
<rect x="17" y="8" width="3" height="1" fill="#8a8a8a"/>
<path d="M23.5,4.5 H26.5 V8.5 H30.5 V11.5 H26.5 V15.5 H23.5 V11.5 H19.5 V8.5 H23.5 Z" fill="#18e03a" stroke="#00820e" stroke-width="1"/>
</g>
<g fill="none" stroke="#000" stroke-width="1" shape-rendering="crispEdges">
<path d="M34,3.5 H40 M34.5,5.5 H39.5 M37,0 V10 M34,8.5 L36.5,6.5 M39.5,8.5 L37.5,6.5 M35,1 L36,2 M39,1 L38,2 M41.5,1 V9.5 M41.5,3.5 H48.5 M45.5,3.5 V10 M48,0.5 L42,1.5 M49,0.5 L50,1.5 M49,3.5 H50.5 V9 L51.5,8 M51.5,0.5 H57.5 M55.5,0.5 V9.5 H53.5 M59.5,0 V5.5 H68.5 V0 M59.5,2.5 H68.5 M59.5,4.5 H68.5 M64,0 V10 M58,7.5 H70"/>
</g>
<g shape-rendering="geometricPrecision">
<path d="M87.5,-0.5 L96.8,7.3 Q97.8,8.2 96.8,9.2 L91,13.3 Q89.8,14 88.8,13.2 L82.6,8.4 Q81.8,7.6 82.6,6.8 L86,2.8 Z" fill="#e6b422" stroke="#a8680e" stroke-width="1"/>
<path d="M83.5,8.2 L89.5,12.8 L96,8.4" fill="none" stroke="#f6e090" stroke-width="1"/>
</g>
<g shape-rendering="geometricPrecision">
<rect x="112" y="0" width="11" height="7" fill="#1e90e8"/>
<rect x="115" y="2" width="6" height="1" fill="#ffffff"/>
<rect x="114" y="0" width="1" height="6" fill="#d0ecff"/>
<path d="M111.8,13.3 Q109.8,12.8 110.3,10.8 Q110.8,9 113,9 Q113.8,6.3 116.5,6.6 Q118.2,5.5 119.8,7.2 Q121.5,6.6 123,8.2 Q125.8,8.6 125.5,11 Q125.2,13.3 122.8,13.3 Z" fill="#dfe6f2" stroke="#4e6796" stroke-width="1"/>
</g>
<g shape-rendering="geometricPrecision" fill="none">
<circle cx="146" cy="5.8" r="7.6" stroke="#5a86d6" stroke-width="1" stroke-dasharray="2,1" opacity="0.75"/>
<circle cx="146" cy="5.8" r="4.6" stroke="#7aa0e0" stroke-width="1" stroke-dasharray="2,1" opacity="0.7"/>
<path d="M146,13.5 A7.6,7.6 0 0 0 153.6,5.8" stroke="#3a9a3a" stroke-width="1.2"/>
<path d="M146,10.4 A4.6,4.6 0 0 0 150.6,5.8" stroke="#7cc07c" stroke-width="1"/>
</g>
<circle cx="146" cy="5.8" r="1.6" fill="#2050c8" shape-rendering="geometricPrecision"/>
<rect x="145.5" y="6" width="1.5" height="8" fill="#1a9e1a"/>
<g shape-rendering="geometricPrecision">
<path d="M165.5,5.5 L180.5,4.2 L173.2,13.6 Z" fill="#f2d44a" stroke="#c89a18" stroke-width="1"/>
<path d="M165,3.2 Q166,0 170,-0.5 L176,-0.5 Q180.5,0 181,3 Q176,5.5 165,3.2 Z" fill="#6cc0ee" stroke="#1f7fb0" stroke-width="1"/>
<circle cx="177.4" cy="9.7" r="4.2" fill="#e02010" stroke="#a81000" stroke-width="0.8"/>
<rect x="176" y="8.3" width="3" height="3" fill="#ffffff"/>
</g>
<g fill="none" stroke="#000" stroke-width="1" shape-rendering="crispEdges">
<path d="M187.5,0 V10 M196,0 V10 M187.5,1.5 H196 M187.5,3.5 H196 M187.5,5.5 H196 M187.5,8.5 H196 M198.5,3.5 H203 M199.5,5.5 L198.5,9.5 L202.5,8.5 M201,6 L202,7.5 M203.5,2.5 H208.5 V9.5 H207 M205.5,0 V5 L203.5,10 M210.5,1.5 H221.5 M216,0 V1.5 M213,3 L211.5,5 M219,3 L220.5,5 M212.5,6 L219.5,10 M219.5,6 L212.5,10 M223.5,0 V5 H231.5 V0 M223.5,2.5 H231.5 M223,6.5 H232.5 V9.5 H231 M225,6.5 L223,9.5 M227.5,7 L225.5,9.5 M230,7 L228,9.5"/>
</g>
<rect x="241" y="0" width="1" height="17" fill="#a0a0a0"/>
<rect x="242" y="0" width="1" height="17" fill="#ffffff"/>
<rect x="245" y="0" width="3" height="1" fill="#8a8a8a"/>
<rect x="246" y="1" width="3" height="1" fill="#ffffff"/>
<rect x="245" y="2" width="3" height="1" fill="#8a8a8a"/>
<rect x="246" y="3" width="3" height="1" fill="#ffffff"/>
<rect x="245" y="4" width="3" height="1" fill="#8a8a8a"/>
<rect x="246" y="5" width="3" height="1" fill="#ffffff"/>
<rect x="245" y="6" width="3" height="1" fill="#8a8a8a"/>
<rect x="246" y="7" width="3" height="1" fill="#ffffff"/>
<rect x="245" y="8" width="3" height="1" fill="#8a8a8a"/>
<rect x="246" y="9" width="3" height="1" fill="#ffffff"/>
<rect x="245" y="10" width="3" height="1" fill="#8a8a8a"/>
<rect x="246" y="11" width="3" height="1" fill="#ffffff"/>
<rect x="245" y="12" width="3" height="1" fill="#8a8a8a"/>
<rect x="246" y="13" width="3" height="1" fill="#ffffff"/>
<rect x="245" y="14" width="3" height="1" fill="#8a8a8a"/>
<rect x="246" y="15" width="3" height="1" fill="#ffffff"/>
<rect x="259" y="0" width="1" height="14" fill="#555555"/>
<rect x="258" y="1" width="3" height="1" fill="#555555"/>
<rect x="257" y="11" width="13" height="1" fill="#555555"/>
<path d="M268,9 L271,11.5 L268,14 Z" fill="#555555" shape-rendering="geometricPrecision"/>
<path d="M265.5,1 V9.5 M265.5,2.5 H268 M263,8.5 H265.5" stroke="#10881a" stroke-width="1" fill="none"/>
<rect x="279" y="0" width="1" height="16" fill="#a0a0a0"/>
<rect x="280" y="0" width="1" height="16" fill="#ffffff"/>
<rect x="280" y="0" width="25" height="16" fill="#f6f6f6"/>
<rect x="287" y="0" width="1" height="14" fill="#555555"/>
<rect x="286" y="1" width="3" height="1" fill="#555555"/>
<rect x="285" y="11" width="13" height="1" fill="#555555"/>
<path d="M296,9 L299,11.5 L296,14 Z" fill="#555555" shape-rendering="geometricPrecision"/>
<rect x="291" y="0" width="5" height="8" fill="#087a10"/>
<rect x="292" y="0" width="3" height="7" fill="#34e854"/>
<rect x="293" y="8" width="1" height="2" fill="#087a10"/>
<rect x="315" y="0" width="1" height="14" fill="#555555"/>
<rect x="314" y="1" width="3" height="1" fill="#555555"/>
<rect x="313" y="11" width="14" height="1" fill="#555555"/>
<path d="M325,9 L328,11.5 L325,14 Z" fill="#555555" shape-rendering="geometricPrecision"/>
<path d="M314,8.5 Q319,1 321,3.3 Q323,5 325.8,7.2" stroke="#3ca03c" stroke-width="1.2" fill="none" shape-rendering="geometricPrecision"/>
<rect x="336" y="0" width="1" height="16" fill="#a0a0a0"/>
<rect x="337" y="0" width="1" height="16" fill="#ffffff"/>
<g shape-rendering="geometricPrecision">
<line x1="354.7" y1="7.6" x2="359.9" y2="12.6" stroke="#b07810" stroke-width="3.2"/>
<line x1="354.7" y1="7.6" x2="359.9" y2="12.6" stroke="#f0d040" stroke-width="1.6"/>
<circle cx="350.9" cy="3.8" r="5.4" fill="#dff2ff" stroke="#2f74c0" stroke-width="1"/>
<rect x="347.7" y="3" width="6.4" height="1.8" fill="#3f86b8"/>
<rect x="350.0" y="0.5" width="1.8" height="6.6" fill="#3f86b8"/>
</g>
<g shape-rendering="geometricPrecision">
<line x1="382.8" y1="7.6" x2="388" y2="12.6" stroke="#b07810" stroke-width="3.2"/>
<line x1="382.8" y1="7.6" x2="388" y2="12.6" stroke="#f0d040" stroke-width="1.6"/>
<circle cx="379" cy="3.8" r="5.4" fill="#dff2ff" stroke="#2f74c0" stroke-width="1"/>
<rect x="375.8" y="3" width="6.4" height="1.8" fill="#3f86b8"/>
</g>
<rect x="401" y="0" width="8" height="7" fill="#2e9a1a"/>
<rect x="402" y="2" width="6" height="3" fill="#ffffff"/>
<rect x="403" y="3" width="4" height="1" fill="#c8e8c8"/>
<rect x="409" y="0" width="8" height="7" fill="#1848c8"/>
<rect x="410" y="2" width="6" height="3" fill="#ffffff"/>
<rect x="411" y="3" width="4" height="1" fill="#c8d8ff"/>
<rect x="401" y="7" width="8" height="7" fill="#1848c8"/>
<rect x="402" y="9" width="6" height="3" fill="#ffffff"/>
<rect x="403" y="10" width="4" height="1" fill="#c8d8ff"/>
<rect x="409" y="7" width="8" height="7" fill="#2e9a1a"/>
<rect x="410" y="9" width="6" height="3" fill="#ffffff"/>
<rect x="411" y="10" width="4" height="1" fill="#c8e8c8"/>
<rect x="426" y="0" width="1" height="17" fill="#a0a0a0"/>
<rect x="427" y="0" width="1" height="17" fill="#ffffff"/>
<rect x="431" y="0" width="25" height="16" fill="#f6f6f6"/>
<rect x="439" y="0" width="1" height="14" fill="#555555"/>
<rect x="438" y="1" width="3" height="1" fill="#555555"/>
<rect x="437" y="11" width="13" height="1" fill="#555555"/>
<path d="M448,9 L451,11.5 L448,14 Z" fill="#555555" shape-rendering="geometricPrecision"/>
<path d="M444,2.5 L448,5.5 L444,8.5 Z" fill="#20b020" shape-rendering="geometricPrecision"/>
<rect x="459" y="0" width="1" height="16" fill="#a0a0a0"/>
<rect x="460" y="0" width="1" height="16" fill="#ffffff"/>
<rect x="460" y="0" width="25" height="16" fill="#f6f6f6"/>
<rect x="467" y="0" width="1" height="14" fill="#555555"/>
<rect x="466" y="1" width="3" height="1" fill="#555555"/>
<rect x="465" y="11" width="13" height="1" fill="#555555"/>
<path d="M476,9 L479,11.5 L476,14 Z" fill="#555555" shape-rendering="geometricPrecision"/>
<rect x="473" y="0" width="1" height="10" fill="#2060c0"/>
<path d="M474.5,5.5 L477.5,3 V4.8 H479.5 V6.2 H477.5 V8 Z" fill="#d84010" shape-rendering="geometricPrecision"/>
<rect x="488" y="0" width="1" height="17" fill="#a0a0a0"/>
<rect x="489" y="0" width="1" height="17" fill="#ffffff"/>
<g shape-rendering="geometricPrecision">
<path d="M498.5,-2 V10 Q498.5,11.5 500,11.5 H509.5 V-2 Z" fill="#fff" stroke="#6a6a6a" stroke-width="1"/>
<path d="M506.5,4.5 H509.5 V8.5 H513.5 V11.5 H509.5 V15.5 H506.5 V11.5 H502.5 V8.5 H506.5 Z" fill="#18e03a" stroke="#00820e" stroke-width="1"/>
</g>
<path d="M519.5,4.8 H525 L522.25,8 Z" fill="#000" shape-rendering="geometricPrecision"/>
<g shape-rendering="geometricPrecision">
<circle cx="544" cy="5.5" r="7.3" fill="url(#gclock)" stroke="#0a3c90" stroke-width="0.8"/>
<circle cx="544" cy="5" r="5.4" fill="#f4f8ff"/>
<path d="M543.5,1.5 V5.5 H546.5" stroke="#333" stroke-width="1" fill="none"/>
</g>
<path d="M558.8,4.8 H564.3 L561.55,8 Z" fill="#000" shape-rendering="geometricPrecision"/>
<rect x="575" y="0" width="16" height="13" fill="#2a64c8"/>
<rect x="576" y="0" width="14" height="5" fill="#f6f8fc"/>
<rect x="576" y="6" width="14" height="6" fill="#f6f8fc"/>
<path d="M577,4 L580,2.5 L583,3.5 L586,2 L589,3" stroke="#c03020" stroke-width="1" fill="none" shape-rendering="geometricPrecision"/>
<path d="M577,10 L580,8.5 L583,9.5 L586,8 L589,9" stroke="#20a020" stroke-width="1" fill="none" shape-rendering="geometricPrecision"/>
<path d="M597.8,4.8 H603.3 L600.55,8 Z" fill="#000" shape-rendering="geometricPrecision"/>
<rect x="609" y="0" width="1" height="17" fill="#a0a0a0"/>
<rect x="610" y="0" width="1" height="17" fill="#ffffff"/>
<rect x="613" y="0" width="3" height="1" fill="#8a8a8a"/>
<rect x="614" y="1" width="3" height="1" fill="#ffffff"/>
<rect x="613" y="2" width="3" height="1" fill="#8a8a8a"/>
<rect x="614" y="3" width="3" height="1" fill="#ffffff"/>
<rect x="613" y="4" width="3" height="1" fill="#8a8a8a"/>
<rect x="614" y="5" width="3" height="1" fill="#ffffff"/>
<rect x="613" y="6" width="3" height="1" fill="#8a8a8a"/>
<rect x="614" y="7" width="3" height="1" fill="#ffffff"/>
<rect x="613" y="8" width="3" height="1" fill="#8a8a8a"/>
<rect x="614" y="9" width="3" height="1" fill="#ffffff"/>
<rect x="613" y="10" width="3" height="1" fill="#8a8a8a"/>
<rect x="614" y="11" width="3" height="1" fill="#ffffff"/>
<rect x="613" y="12" width="3" height="1" fill="#8a8a8a"/>
<rect x="614" y="13" width="3" height="1" fill="#ffffff"/>
<rect x="613" y="14" width="3" height="1" fill="#8a8a8a"/>
<rect x="614" y="15" width="3" height="1" fill="#ffffff"/>
<rect x="619" y="0" width="1" height="16" fill="#a0a0a0"/>
<rect x="620" y="0" width="1" height="16" fill="#ffffff"/>
<rect x="620" y="0" width="24" height="16" fill="#f6f6f6"/>
<path d="M627,0 L627,10.5 L629.5,8.3 L632,13 L633.6,12.2 L631.3,7.6 L634.8,7.4 Z" fill="#3c3c3c" shape-rendering="geometricPrecision"/>
<rect x="659" y="0" width="1" height="14" fill="#444"/>
<rect x="652" y="6" width="15" height="1" fill="#444"/>
<rect x="659" y="6" width="1" height="1" fill="#f0f0f0"/>
<rect x="676" y="0" width="1" height="16" fill="#a0a0a0"/>
<rect x="677" y="0" width="1" height="16" fill="#ffffff"/>
<rect x="693" y="0" width="1" height="13" fill="#444"/>
<rect x="716" y="6" width="12" height="1" fill="#444"/>
<line x1="744" y1="13" x2="755.8" y2="1.2" stroke="#444" stroke-width="1" shape-rendering="geometricPrecision"/>
<g shape-rendering="geometricPrecision" stroke="#444" stroke-width="1" fill="none">
<line x1="770" y1="8" x2="779" y2="0"/><line x1="772" y1="12" x2="783" y2="2"/>
<path d="M773,1 L771,10 M776,0 L774,9 M779,1 L777,10"/>
</g>
<text x="780.2" y="14.5" font-size="7.5" fill="#444" font-weight="bold" >E</text>
<rect x="799" y="2" width="1" height="1" fill="#444"/>
<rect x="801" y="2" width="1" height="1" fill="#444"/>
<rect x="803" y="2" width="1" height="1" fill="#444"/>
<rect x="805" y="2" width="1" height="1" fill="#444"/>
<rect x="807" y="2" width="1" height="1" fill="#444"/>
<rect x="809" y="2" width="1" height="1" fill="#444"/>
<rect x="811" y="2" width="1" height="1" fill="#444"/>
<rect x="799" y="6" width="1" height="1" fill="#444"/>
<rect x="801" y="6" width="1" height="1" fill="#444"/>
<rect x="803" y="6" width="1" height="1" fill="#444"/>
<rect x="805" y="6" width="1" height="1" fill="#444"/>
<rect x="807" y="6" width="1" height="1" fill="#444"/>
<rect x="809" y="6" width="1" height="1" fill="#444"/>
<rect x="811" y="6" width="1" height="1" fill="#444"/>
<rect x="799" y="10" width="1" height="1" fill="#444"/>
<rect x="801" y="10" width="1" height="1" fill="#444"/>
<rect x="803" y="10" width="1" height="1" fill="#444"/>
<rect x="805" y="10" width="1" height="1" fill="#444"/>
<rect x="807" y="10" width="1" height="1" fill="#444"/>
<rect x="809" y="10" width="1" height="1" fill="#444"/>
<rect x="811" y="10" width="1" height="1" fill="#444"/>
<text x="806.5" y="14.5" font-size="7.5" fill="#444" font-weight="bold" >F</text>
<text x="829.3" y="11" font-size="11.5" fill="#555" textLength="8.5" lengthAdjust="spacingAndGlyphs" font-weight="bold" >A</text>
<rect x="856" y="0" width="1" height="1" fill="#555"/>
<rect x="856" y="12" width="1" height="1" fill="#555"/>
<rect x="858" y="0" width="1" height="1" fill="#555"/>
<rect x="858" y="12" width="1" height="1" fill="#555"/>
<rect x="860" y="0" width="1" height="1" fill="#555"/>
<rect x="860" y="12" width="1" height="1" fill="#555"/>
<rect x="862" y="0" width="1" height="1" fill="#555"/>
<rect x="862" y="12" width="1" height="1" fill="#555"/>
<rect x="864" y="0" width="1" height="1" fill="#555"/>
<rect x="864" y="12" width="1" height="1" fill="#555"/>
<rect x="866" y="0" width="1" height="1" fill="#555"/>
<rect x="866" y="12" width="1" height="1" fill="#555"/>
<rect x="868" y="0" width="1" height="1" fill="#555"/>
<rect x="868" y="12" width="1" height="1" fill="#555"/>
<rect x="856" y="0" width="1" height="1" fill="#555"/>
<rect x="868" y="0" width="1" height="1" fill="#555"/>
<rect x="856" y="2" width="1" height="1" fill="#555"/>
<rect x="868" y="2" width="1" height="1" fill="#555"/>
<rect x="856" y="4" width="1" height="1" fill="#555"/>
<rect x="868" y="4" width="1" height="1" fill="#555"/>
<rect x="856" y="6" width="1" height="1" fill="#555"/>
<rect x="868" y="6" width="1" height="1" fill="#555"/>
<rect x="856" y="8" width="1" height="1" fill="#555"/>
<rect x="868" y="8" width="1" height="1" fill="#555"/>
<rect x="856" y="10" width="1" height="1" fill="#555"/>
<rect x="868" y="10" width="1" height="1" fill="#555"/>
<rect x="856" y="12" width="1" height="1" fill="#555"/>
<rect x="868" y="12" width="1" height="1" fill="#555"/>
<text x="858.2" y="10.6" font-size="11.5" fill="#555" textLength="8" lengthAdjust="spacingAndGlyphs" font-weight="bold" >T</text>
<g shape-rendering="geometricPrecision">
<path d="M884,3 L887,0 L890,3 L887,6 Z" fill="#555"/>
<path d="M886.5,7.5 L888.5,9.5 L892,5" stroke="#555" stroke-width="1.3" fill="none"/>
<path d="M890.5,10 L893.5,7 L896.5,10 L893.5,13 Z" fill="#555"/>
<path d="M904,4.8 H909.5 L906.75,8 Z" fill="#000"/>
</g>
<rect x="915" y="0" width="1" height="17" fill="#a0a0a0"/>
<rect x="916" y="0" width="1" height="17" fill="#ffffff"/>
<rect x="919" y="0" width="3" height="1" fill="#8a8a8a"/>
<rect x="920" y="1" width="3" height="1" fill="#ffffff"/>
<rect x="919" y="2" width="3" height="1" fill="#8a8a8a"/>
<rect x="920" y="3" width="3" height="1" fill="#ffffff"/>
<rect x="919" y="4" width="3" height="1" fill="#8a8a8a"/>
<rect x="920" y="5" width="3" height="1" fill="#ffffff"/>
<rect x="919" y="6" width="3" height="1" fill="#8a8a8a"/>
<rect x="920" y="7" width="3" height="1" fill="#ffffff"/>
<rect x="919" y="8" width="3" height="1" fill="#8a8a8a"/>
<rect x="920" y="9" width="3" height="1" fill="#ffffff"/>
<rect x="919" y="10" width="3" height="1" fill="#8a8a8a"/>
<rect x="920" y="11" width="3" height="1" fill="#ffffff"/>
<rect x="919" y="12" width="3" height="1" fill="#8a8a8a"/>
<rect x="920" y="13" width="3" height="1" fill="#ffffff"/>
<rect x="919" y="14" width="3" height="1" fill="#8a8a8a"/>
<rect x="920" y="15" width="3" height="1" fill="#ffffff"/>
<rect x="1065" y="0" width="1" height="16" fill="#a0a0a0"/>
<rect x="1066" y="0" width="25" height="16" fill="#f6f6f6"/>
<text x="930.6" y="10" font-size="9.6" fill="#404040" stroke="#404040" stroke-width="0.12" textLength="12.4" lengthAdjust="spacingAndGlyphs" >M1</text>
<text x="958.7" y="10" font-size="9.6" fill="#404040" stroke="#404040" stroke-width="0.12" textLength="12.3" lengthAdjust="spacingAndGlyphs" >M5</text>
<text x="984.7" y="10" font-size="9.6" fill="#404040" stroke="#404040" stroke-width="0.12" textLength="17.3" lengthAdjust="spacingAndGlyphs" >M15</text>
<text x="1012.8" y="10" font-size="9.6" fill="#404040" stroke="#404040" stroke-width="0.12" textLength="17.3" lengthAdjust="spacingAndGlyphs" >M30</text>
<text x="1043.7" y="10" font-size="9.6" fill="#404040" stroke="#404040" stroke-width="0.12" textLength="11.3" lengthAdjust="spacingAndGlyphs" >H1</text>
<text x="1070.7" y="10" font-size="9.6" fill="#404040" stroke="#404040" stroke-width="0.12" textLength="12" lengthAdjust="spacingAndGlyphs" >H4</text>
<text x="1099.9" y="10" font-size="9.6" fill="#404040" stroke="#404040" stroke-width="0.12" textLength="11.2" lengthAdjust="spacingAndGlyphs" >D1</text>
<text x="1127" y="10" font-size="9.6" fill="#404040" stroke="#404040" stroke-width="0.12" textLength="14.3" lengthAdjust="spacingAndGlyphs" >W1</text>
<text x="1153.7" y="10" font-size="9.6" fill="#404040" stroke="#404040" stroke-width="0.12" textLength="14.7" lengthAdjust="spacingAndGlyphs" >MN</text>
<rect x="1176" y="0" width="1" height="17" fill="#a0a0a0"/>
<rect x="1177" y="0" width="1" height="17" fill="#ffffff"/>
<g shape-rendering="geometricPrecision">
<line x1="1643.2" y1="7.3" x2="1639" y2="11.2" stroke="#2c5fcf" stroke-width="2.6" stroke-linecap="round"/>
<circle cx="1646.4" cy="3.4" r="3.9" fill="#f6f8ff" stroke="#2c62d8" stroke-width="1.3"/>
<path d="M1666,13.8 L1667.2,11.6 Q1663.5,10.5 1663.5,7.5 Q1663.5,3.5 1669,3.5 Q1675,3.5 1675,8 Q1675,12 1669.5,12 Z" fill="#e2e4ec" stroke="#a0a0a8" stroke-width="0.9"/>
<circle cx="1677.4" cy="3.5" r="8.2" fill="url(#gbadge)"/>
</g>
<text x="1674.2" y="8.2" font-size="12" fill="#fff" font-weight="bold" font-family="Liberation Serif">1</text>
</svg></body></html>
